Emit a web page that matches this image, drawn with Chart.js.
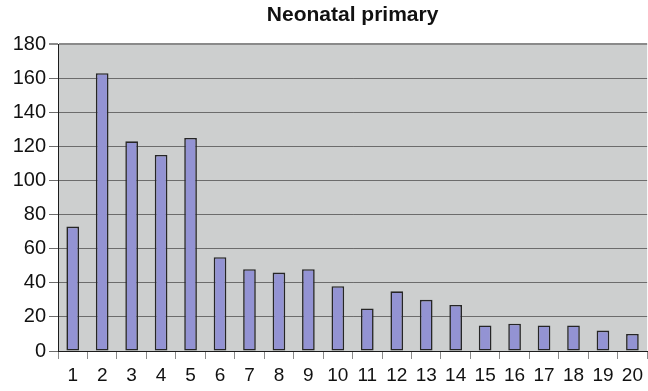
<!DOCTYPE html>
<html>
<head>
<meta charset="utf-8">
<script src="https://cdn.jsdelivr.net/npm/chart.js@4/dist/chart.umd.min.js"></script>
<style>
  html, body { margin: 0; padding: 0; background: #fff; }
  #wrap { width: 648px; height: 391px; position: relative; }
</style>
</head>
<body>
<div id="wrap"><canvas id="chart"></canvas></div>
<script>
const TITLE = 'Neonatal primary';
const CATEGORIES = ['1', '2', '3', '4', '5', '6', '7', '8', '9', '10',
  '11', '12', '13', '14', '15', '16', '17', '18', '19', '20'];
const VALUES = [73, 163, 123, 115, 125, 55, 48, 46, 48, 38,
  25, 35, 30, 27, 15, 16, 15, 15, 12, 10];
const Y_TICKS = [0, 20, 40, 60, 80, 100, 120, 140, 160, 180];

const FONT = '"Liberation Sans", Arial, Helvetica, sans-serif';

// grey plot background behind the bars
const PLOT_BG = {
  id: 'plotBg',
  beforeDraw(chart) {
    const { ctx, chartArea: a } = chart;
    ctx.save();
    ctx.fillStyle = '#cdcfcf';
    ctx.fillRect(a.left, a.top, a.right - a.left, a.bottom - a.top);
    ctx.restore();
  },
};

const CHART = new Chart(document.getElementById('chart'), {
  type: 'bar',
  data: {
    labels: CATEGORIES,
    datasets: [{
      data: VALUES,
      backgroundColor: '#9393d3',
      borderColor: '#262626',
      borderWidth: 1.6,
      borderSkipped: false,
      categoryPercentage: 1,
      barPercentage: 0.43,
    }],
  },
  options: {
    responsive: true,
    maintainAspectRatio: false,
    animation: false,
    layout: { padding: 0 },
    plugins: {
      legend: { display: false },
      tooltip: { enabled: false },
      title: {
        display: true,
        text: TITLE,
        fullSize: false,
        color: '#111',
        font: { family: FONT, size: 21, weight: 'bold' },
        padding: { top: 3, bottom: 16 },
      },
    },
    scales: {
      x: {
        offset: true,
        grid: {
          offset: true,
          drawOnChartArea: false,
          tickLength: 8,
          color: '#8a8a8a',
        },
        border: { color: '#1c1c1c', width: 1 },
        ticks: {
          color: '#111',
          font: { family: FONT, size: 19 },
          padding: 5,
          maxRotation: 0,
          autoSkip: false,
        },
        afterFit(scale) { scale.height = 40; },
      },
      y: {
        min: 0,
        max: 180,
        afterBuildTicks(scale) { scale.ticks = Y_TICKS.map(v => ({ value: v })); },
        grid: {
          tickLength: 9,
          color: ctx => (ctx.tick && ctx.tick.value === 180) ? '#8a8a8a' : '#6c6c6c',
          lineWidth: ctx => (ctx.tick && ctx.tick.value === 180) ? 2 : 1,
        },
        border: { color: '#1c1c1c', width: 1 },
        ticks: {
          color: '#111',
          font: { family: FONT, size: 20 },
          padding: 3,
        },
        afterFit(scale) { scale.width = 58; },
      },
    },
  },
  plugins: [PLOT_BG],
});
</script>
</body>
</html>
